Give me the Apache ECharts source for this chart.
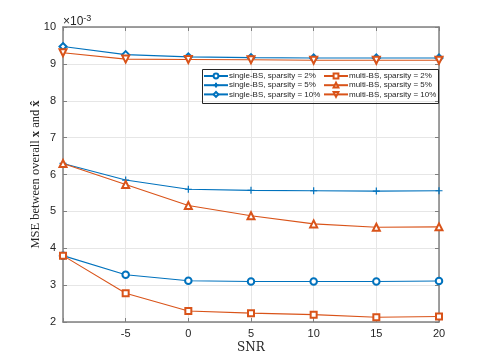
<!DOCTYPE html>
<html>
<head>
<meta charset="utf-8">
<script src="https://cdn.jsdelivr.net/npm/echarts@6/dist/echarts.min.js"></script>
<style>
  html, body { margin: 0; padding: 0; background: #fff; }
  #chart { width: 485px; height: 363px; }
</style>
</head>
<body>
<div id="chart"></div>
<script>
// SNR values (x) and MSE values in units of 1e-3
var snr = [-10, -5, 0, 5, 10, 15, 20];
var single2  = [3.80, 3.28, 3.12, 3.10, 3.10, 3.10, 3.11];
var single5  = [6.30, 5.85, 5.60, 5.57, 5.56, 5.55, 5.56];
var single10 = [9.47, 9.25, 9.19, 9.17, 9.16, 9.16, 9.16];
var multi2   = [3.80, 2.78, 2.30, 2.24, 2.20, 2.13, 2.15];
var multi5   = [6.30, 5.73, 5.16, 4.88, 4.66, 4.57, 4.58];
var multi10  = [9.30, 9.13, 9.12, 9.11, 9.10, 9.10, 9.10];

var names = [
  'single-BS, sparsity = 2%', 'single-BS, sparsity = 5%', 'single-BS, sparsity = 10%',
  'multi-BS, sparsity = 2%', 'multi-BS, sparsity = 5%', 'multi-BS, sparsity = 10%'
];

var blue = '#0072BD', orange = '#D95319';
var plus = 'path://M5,0 L5,10 M0,5 L10,5';

var pairs = function(vals){
  var out = [];
  for (var i = 0; i < snr.length; i++) out.push([snr[i], vals[i]]);
  return out;
};

var mkSeries = function(name, vals, color, symbol, rotate, size){
  return {
    name: name,
    type: 'line',
    data: pairs(vals),
    symbol: symbol,
    symbolSize: size || 6,
    symbolRotate: rotate || 0,
    showAllSymbol: true,
    lineStyle: { color: color, width: 1.1 },
    itemStyle: { color: color, borderColor: color, borderWidth: 1.2 },
    emphasis: { disabled: true },
    animation: false,
    z: 3
  };
};

var labelFont = { color: '#262626', fontSize: 11, fontFamily: 'Liberation Sans, Arial, sans-serif' };
var axisColor = '#808080';
var legendText = { fontSize: 8, lineHeight: 9, color: '#262626', fontFamily: 'Liberation Sans, Arial, sans-serif', padding: [0, 0, 0, -4] };

var chart = echarts.init(document.getElementById('chart'), null, { renderer: 'canvas' });
chart.setOption({
  backgroundColor: '#fff',
  animation: false,
  grid: { left: 63, right: 46, top: 27, bottom: 41, show: false },
  legend: [{
    orient: 'vertical', left: 203, top: 71.5, padding: 0,
    itemWidth: 24, itemHeight: 6, itemGap: 0.2,
    textStyle: legendText,
    data: names.slice(0, 3)
  }, {
    orient: 'vertical', left: 323, top: 71.5, padding: 0,
    itemWidth: 24, itemHeight: 6, itemGap: 0.2,
    textStyle: legendText,
    data: names.slice(3)
  }],
  graphic: [{
    type: 'rect', left: 200, top: 67, z: 10, silent: true,
    shape: { width: 236, height: 34 },
    style: { fill: 'none', stroke: '#262626', lineWidth: 1 }
  }, {
    type: 'text', left: 63, top: 14,
    style: {
      text: '{a|\u00d710}{b|-3}',
      rich: {
        a: { fontSize: 12, fill: '#262626', fontFamily: 'Liberation Sans, Arial, sans-serif' },
        b: { fontSize: 9, fill: '#262626', fontFamily: 'Liberation Sans, Arial, sans-serif', verticalAlign: 'top', padding: [0, 0, 6, 0] }
      }
    }
  }],
  xAxis: [{
    type: 'value', min: -10, max: 20, interval: 5,
    name: 'SNR', nameLocation: 'middle', nameGap: 20, nameMoveOverlap: false,
    nameTextStyle: { fontSize: 12, color: '#262626', fontFamily: 'DejaVu Serif, Liberation Serif, serif' },
    axisLine: { show: true, onZero: false, lineStyle: { color: axisColor, width: 1.5 } },
    axisTick: { show: true, inside: true, length: 4, lineStyle: { color: axisColor } },
    axisLabel: Object.assign({ margin: 6, formatter: function(v){ return v === -10 ? '' : String(v); } }, labelFont),
    splitLine: { show: true, lineStyle: { color: '#e6e6e6', width: 1 } }
  }, {
    type: 'value', min: -10, max: 20, interval: 5, position: 'top',
    axisLine: { show: true, onZero: false, lineStyle: { color: axisColor, width: 1.5 } },
    axisTick: { show: true, inside: true, length: 4, lineStyle: { color: axisColor } },
    axisLabel: { show: false }, splitLine: { show: false }
  }],
  yAxis: [{
    type: 'value', min: 2, max: 10, interval: 1,
    name: '{n|MSE between overall }{b|x}{n| and }{b|x\u0302}',
    nameLocation: 'middle', nameGap: 21, nameMoveOverlap: false,
    nameTextStyle: {
      fontSize: 12, color: '#262626', fontFamily: 'Liberation Serif, DejaVu Serif, serif',
      rich: {
        n: { fontSize: 12.5, color: '#262626', fontFamily: 'Liberation Serif, DejaVu Serif, serif' },
        b: { fontSize: 12.5, color: '#262626', fontWeight: 'bold', fontFamily: 'Liberation Serif, DejaVu Serif, serif' }
      }
    },
    axisLine: { show: true, onZero: false, lineStyle: { color: axisColor, width: 1.5 } },
    axisTick: { show: true, inside: true, length: 4, lineStyle: { color: axisColor } },
    axisLabel: Object.assign({ margin: 7 }, labelFont),
    splitLine: { show: true, lineStyle: { color: '#e6e6e6', width: 1 } }
  }, {
    type: 'value', min: 2, max: 10, interval: 1, position: 'right',
    axisLine: { show: true, onZero: false, lineStyle: { color: axisColor, width: 1.5 } },
    axisTick: { show: true, inside: true, length: 4, lineStyle: { color: axisColor } },
    axisLabel: { show: false }, splitLine: { show: false }
  }],
  series: [
    mkSeries(names[0], single2, blue, 'emptyCircle', 0, 6.5),
    mkSeries(names[1], single5, blue, plus, 0, 7),
    mkSeries(names[2], single10, blue, 'emptyDiamond', 0, 7),
    mkSeries(names[3], multi2, orange, 'emptyRect', 0, 6),
    mkSeries(names[4], multi5, orange, 'emptyTriangle', 0, 7),
    mkSeries(names[5], multi10, orange, 'emptyTriangle', 180, 7)
  ]
});
</script>
</body>
</html>
